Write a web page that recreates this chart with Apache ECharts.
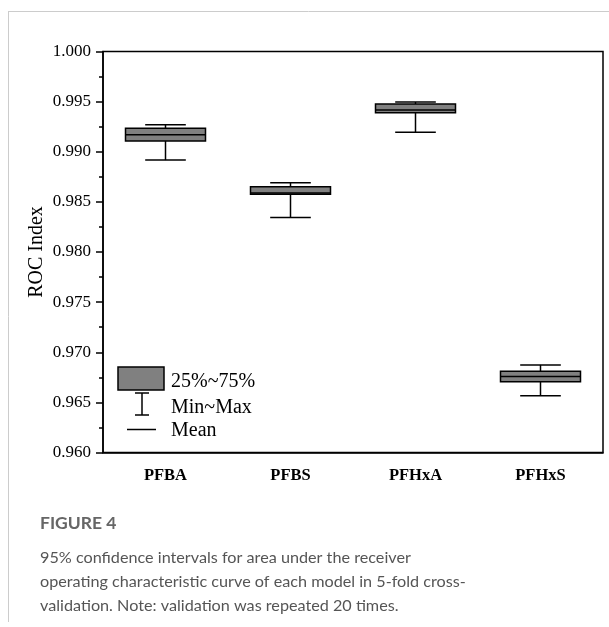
<!DOCTYPE html>
<html>
<head>
<meta charset="utf-8">
<script src="https://cdn.jsdelivr.net/npm/echarts@6/dist/echarts.min.js"></script>
<style>
html,body{margin:0;padding:0;background:#fff;}
#c{width:609px;height:627px;}
</style>
</head>
<body>
<div id="c"></div>
<script>
// Data
const categories = ['PFBA', 'PFBS', 'PFHxA', 'PFHxS'];
const minValues  = [0.98917, 0.98345, 0.99194, 0.96565];
const q1Values   = [0.99107, 0.98575, 0.99389, 0.96705];
const meanValues = [0.99170, 0.98588, 0.99416, 0.96758];
const q3Values   = [0.99234, 0.98651, 0.99476, 0.96811];
const maxValues  = [0.99269, 0.98691, 0.99496, 0.96874];
const yTicks = { min: 0.960, max: 1.000, interval: 0.005 };
const legendLabels = ['25%~75%', 'Min~Max', 'Mean'];
const captionTitle = 'FIGURE 4';
const captionLines = [
  '95% confidence intervals for area under the receiver',
  'operating characteristic curve of each model in 5-fold cross-',
  'validation. Note: validation was repeated 20 times.'
];

const seriesData = categories.map((c, i) => [i, minValues[i], q1Values[i], meanValues[i], q3Values[i], maxValues[i]]);

const serif = '"Liberation Serif", "Times New Roman", serif';
const sans = 'Lato, "Open Sans", sans-serif';
const chart = echarts.init(document.getElementById('c'));

function renderItem(params, api) {
  const x = api.value(0);
  const pMin = api.coord([x, api.value(1)]);
  const pQ1 = api.coord([x, api.value(2)]);
  const pMean = api.coord([x, api.value(3)]);
  const pQ3 = api.coord([x, api.value(4)]);
  const pMax = api.coord([x, api.value(5)]);
  const band = api.size([1, 0])[0];
  const bw = band * 0.64;
  const cw = band * 0.325;
  const cx = pMin[0];
  const ls = { stroke: '#000', lineWidth: 1.5 };
  return {
    type: 'group',
    children: [
      { type: 'line', shape: { x1: cx, y1: pQ1[1], x2: cx, y2: pMin[1] }, style: ls },
      { type: 'line', shape: { x1: cx, y1: pQ3[1], x2: cx, y2: pMax[1] }, style: ls },
      { type: 'line', shape: { x1: cx - cw / 2, y1: pMin[1], x2: cx + cw / 2, y2: pMin[1] }, style: ls },
      { type: 'line', shape: { x1: cx - cw / 2, y1: pMax[1], x2: cx + cw / 2, y2: pMax[1] }, style: ls },
      { type: 'rect', shape: { x: cx - bw / 2, y: pQ3[1], width: bw, height: pQ1[1] - pQ3[1] },
        style: { fill: '#808080', stroke: '#000', lineWidth: 1.5 } },
      { type: 'line', shape: { x1: cx - bw / 2, y1: pMean[1], x2: cx + bw / 2, y2: pMean[1] }, style: ls }
    ]
  };
}

const option = {
  animation: false,
  backgroundColor: '#fff',
  grid: { left: 103, right: 6, top: 51.5, bottom: 174.5, show: true, borderColor: '#000', borderWidth: 1.5, backgroundColor: 'transparent' },
  xAxis: {
    type: 'category',
    data: categories,
    boundaryGap: true,
    axisLine: { lineStyle: { color: '#000', width: 1.5 } },
    axisTick: { alignWithLabel: true, length: 7, lineStyle: { color: '#000', width: 1.5 } },
    axisLabel: { color: '#000', fontFamily: serif, fontWeight: 'bold', fontSize: 16.5, margin: 15 },
    splitLine: { show: false }
  },
  yAxis: {
    type: 'value',
    min: yTicks.min,
    max: yTicks.max,
    interval: yTicks.interval,
    name: 'ROC Index',
    nameLocation: 'middle',
    nameMoveOverlap: false,
    nameGap: 66,
    nameTextStyle: { color: '#000', fontFamily: serif, fontSize: 20, verticalAlign: 'middle' },
    axisLine: { show: true, lineStyle: { color: '#000', width: 1.5 } },
    axisTick: { show: true, length: 7, lineStyle: { color: '#000', width: 1.5 } },
    minorTick: { show: true, splitNumber: 2, length: 4, lineStyle: { color: '#000', width: 1.5 } },
    axisLabel: { color: '#000', fontFamily: serif, fontSize: 17, margin: 12, formatter: v => v.toFixed(3) },
    splitLine: { show: false }
  },
  series: [{
    type: 'custom',
    renderItem: renderItem,
    encode: { x: 0, y: [1, 2, 3, 4, 5] },
    data: seriesData,
    z: 5
  }],
  graphic: [
    // card border
    { type: 'line', shape: { x1: 8, y1: 11.5, x2: 609, y2: 11.5 }, style: { stroke: '#cccccc', lineWidth: 1 } },
    { type: 'line', shape: { x1: 8.5, y1: 11, x2: 8.5, y2: 622 }, style: { stroke: '#cccccc', lineWidth: 1 } },
    // legend
    { type: 'rect', shape: { x: 118, y: 367, width: 46, height: 23 }, style: { fill: '#808080', stroke: '#000', lineWidth: 1.5 }, z: 10 },
    { type: 'line', shape: { x1: 142, y1: 393, x2: 142, y2: 415 }, style: { stroke: '#000', lineWidth: 1.5 }, z: 10 },
    { type: 'line', shape: { x1: 135, y1: 393, x2: 149, y2: 393 }, style: { stroke: '#000', lineWidth: 1.5 }, z: 10 },
    { type: 'line', shape: { x1: 135, y1: 415, x2: 149, y2: 415 }, style: { stroke: '#000', lineWidth: 1.5 }, z: 10 },
    { type: 'line', shape: { x1: 127, y1: 429.5, x2: 156, y2: 429.5 }, style: { stroke: '#000', lineWidth: 1.5 }, z: 10 },
    { type: 'text', left: 171, top: 372, style: { text: legendLabels[0], font: '20px ' + serif, fill: '#000' }, z: 10 },
    { type: 'text', left: 171, top: 398, style: { text: legendLabels[1], font: '20px ' + serif, fill: '#000' }, z: 10 },
    { type: 'text', left: 171, top: 421, style: { text: legendLabels[2], font: '20px ' + serif, fill: '#000' }, z: 10 },
    // caption
    { type: 'text', left: 40, top: 514, style: { text: captionTitle, font: 'bold 17.5px ' + sans, fill: '#666' } },
    { type: 'text', left: 40, top: 550, style: { text: captionLines[0], font: '16.2px ' + sans, fill: '#555' } },
    { type: 'text', left: 40, top: 574, style: { text: captionLines[1], font: '16.2px ' + sans, fill: '#555' } },
    { type: 'text', left: 40, top: 598, style: { text: captionLines[2], font: '16.2px ' + sans, fill: '#555' } }
  ]
};
chart.setOption(option);
</script>
</body>
</html>
